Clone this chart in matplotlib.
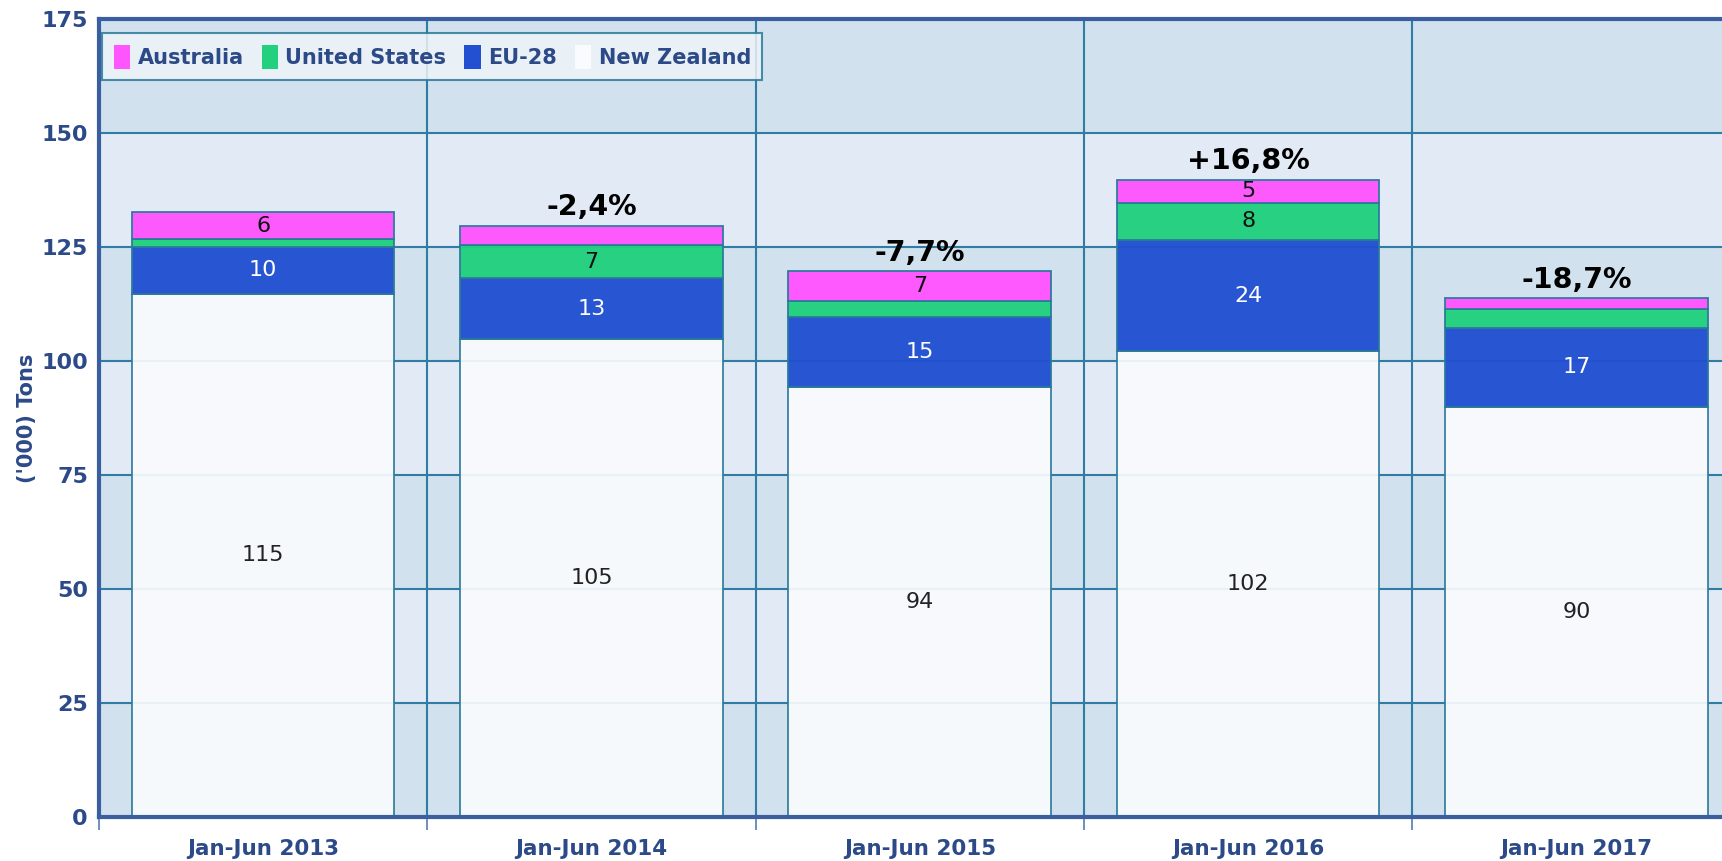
import matplotlib
matplotlib.use('Agg')
import matplotlib.pyplot as plt
from matplotlib.patches import Patch
import numpy as np

categories = ['Jan-Jun 2013', 'Jan-Jun 2014', 'Jan-Jun 2015', 'Jan-Jun 2016', 'Jan-Jun 2017']
new_zealand = [114.7, 104.8, 94.2, 102.2, 89.9]
eu28 = [10.4, 13.3, 15.4, 24.3, 17.4]
united_states = [1.6, 7.4, 3.6, 8.2, 4.1]
australia = [5.9, 4.2, 6.6, 5.1, 2.4]

nz_labels = ['115', '105', '94', '102', '90']
eu_labels = ['10', '13', '15', '24', '17']
us_labels = ['', '7', '', '8', '']
au_labels = ['6', '', '7', '5', '']
change_labels = ['', '-2,4%', '-7,7%', '+16,8%', '-18,7%']

yticks = [0, 25, 50, 75, 100, 125, 150, 175]

col_au = '#ff55ff'
col_us = '#22d07e'
col_eu = '#2250d0'
col_nz = '#f9fbfd'
edge = '#2a7a9a'
grid_col = '#2f7ca5'
axis_col = '#3b5ea0'
text_col = '#2c4a88'

fig = plt.figure(figsize=(17.22, 8.61), dpi=100)
fig.patch.set_facecolor('white')
ax = fig.add_axes([99/1722, 44/861, 1641.6/1722, 798/861])

x = np.arange(len(categories))
ax.set_xlim(-0.5, len(categories) - 0.5)
ax.set_ylim(0, 175)

# alternating bands
for i in range(7):
    ax.axhspan(i*25, (i+1)*25, color='#d1e1ee' if i % 2 == 0 else '#e2eaf5', zorder=0, lw=0)

# grid lines
for yv in yticks[1:]:
    ax.axhline(yv, color=grid_col, lw=1.5, zorder=1)
for b in [0.5, 1.5, 2.5, 3.5]:
    ax.axvline(b, color=grid_col, lw=1.5, zorder=1)

w = 0.8
nz = np.array(new_zealand); eu = np.array(eu28); us = np.array(united_states); au = np.array(australia)
bars_nz = ax.bar(x, nz, w, color=col_nz, edgecolor=edge, lw=1.3, zorder=2, alpha=0.93)
bars_eu = ax.bar(x, eu, w, bottom=nz, color=col_eu, edgecolor=edge, lw=1.3, zorder=2, alpha=0.97)
bars_us = ax.bar(x, us, w, bottom=nz+eu, color=col_us, edgecolor=edge, lw=1.3, zorder=2, alpha=0.97)
bars_au = ax.bar(x, au, w, bottom=nz+eu+us, color=col_au, edgecolor=edge, lw=1.3, zorder=2, alpha=0.97)

ax.bar_label(bars_nz, labels=nz_labels, label_type='center', color='#222222', fontsize=16, zorder=4)
ax.bar_label(bars_eu, labels=eu_labels, label_type='center', color='white', fontsize=16, zorder=4)
ax.bar_label(bars_us, labels=us_labels, label_type='center', color='#111111', fontsize=16, zorder=4)
ax.bar_label(bars_au, labels=au_labels, label_type='center', color='#111111', fontsize=16, zorder=4)

totals = nz + eu + us + au
for xi, t, lab in zip(x, totals, change_labels):
    if lab:
        ax.text(xi, t + 0.9, lab, ha='center', va='bottom', fontsize=20.5, fontweight='bold', color='black', zorder=4)

# ticks
ax.set_yticks(yticks)
ax.set_yticklabels([str(v) for v in yticks], color=text_col, fontsize=16, fontweight='bold')
ax.tick_params(axis='y', length=0, pad=8)

ax.set_xticks([-0.5, 0.5, 1.5, 2.5, 3.5, 4.5])
ax.set_xticklabels([])
ax.tick_params(axis='x', which='major', length=9, width=1.2, color='#5a7ab0', direction='out')
ax.set_xticks(x, minor=True)
ax.set_xticklabels(categories, minor=True, color=text_col, fontsize=15.5, fontweight='bold')
ax.tick_params(axis='x', which='minor', length=0, pad=16)

for s in ax.spines.values():
    s.set_color(axis_col)
    s.set_linewidth(3)
    s.set_zorder(5)

ax.set_ylabel("('000) Tons", color=text_col, fontsize=15, fontweight='bold', labelpad=3)

handles = [Patch(facecolor=col_au, edgecolor='none', label='Australia'),
           Patch(facecolor=col_us, edgecolor='none', label='United States'),
           Patch(facecolor=col_eu, edgecolor='none', label='EU-28'),
           Patch(facecolor='#f9fbfd', edgecolor='none', label='New Zealand')]
leg = ax.legend(handles=handles, loc='upper left', bbox_to_anchor=(0.002, 0.982), ncol=4,
                borderaxespad=0,
                frameon=True, fancybox=False, edgecolor=edge, facecolor='#eef3f8', framealpha=0.85,
                handlelength=0.8, handleheight=1.4, handletextpad=0.35, columnspacing=0.85,
                borderpad=0.55, prop={'weight': 'bold', 'size': 15})
for t in leg.get_texts():
    t.set_color(text_col)
leg.get_frame().set_linewidth(1.5)
leg.set_zorder(6)

fig.savefig('out.png', dpi=100)
